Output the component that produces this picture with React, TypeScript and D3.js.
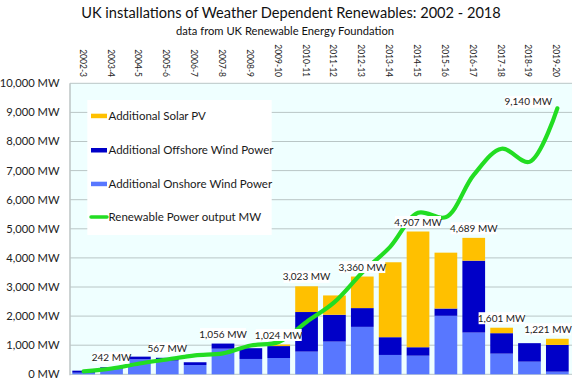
import React from "react";
import * as d3 from "d3";

const categories = ["2002-3","2003-4","2004-5","2005-6","2006-7","2007-8","2008-9","2009-10","2010-11","2011-12","2012-13","2013-14","2014-15","2015-16","2016-17","2017-18","2018-19","2019-20"];
const onshore = [55, 190, 517, 470, 320, 880, 527, 560, 780, 1125, 1630, 665, 640, 2010, 1435, 710, 435, 90];
const offshore = [70, 52, 90, 97, 94, 176, 370, 410, 1360, 920, 645, 610, 290, 250, 2470, 703, 635, 920];
const solar = [0, 0, 0, 0, 0, 0, 0, 54, 883, 665, 1085, 2575, 3977, 1920, 784, 188, 0, 211];
const outputLine = [100, 200, 370, 510, 650, 720, 990, 1110, 1800, 2480, 3500, 4380, 5550, 5400, 6850, 7750, 7300, 9140];
const labeledCats = ["2003-4","2005-6","2007-8","2009-10","2010-11","2012-13","2014-15","2016-17","2017-18","2019-20"];
const yTicks = [0,1000,2000,3000,4000,5000,6000,7000,8000,9000,10000];
const seriesNames = ["Additional Solar PV","Additional Offshore Wind Power","Additional Onshore Wind Power","Renewable Power output MW"];

const FONT = "Lato, 'Open Sans', sans-serif";
const COLORS = { onshore: "#5877FF", offshore: "#0000C8", solar: "#FFC000", line: "#22DD22" };

export default function App() {
  const left = 70, right = 571, top = 83.3, bottom = 374.3;
  const x = d3.scaleBand<string>().domain(categories).range([left, right]).paddingInner(0.185).paddingOuter(0.083);
  const y = d3.scaleLinear().domain([0, 10000]).range([bottom, top]);
  const rows = categories.map((c, i) => ({ cat: c, onshore: onshore[i], offshore: offshore[i], solar: solar[i] }));
  const stack = d3.stack<any>().keys(["onshore", "offshore", "solar"]);
  const series = stack(rows);
  const cx = (c: string) => (x(c) as number) + x.bandwidth() / 2;
  const lineGen = d3.line<number>().x((_, i) => cx(categories[i])).y(d => y(d)).curve(d3.curveCatmullRom.alpha(0.5));
  const fmt = d3.format(",");
  const fs = 10;
  const textW = (s: string) => s.length * fs * 0.5;

  const barLabels = labeledCats.map(c => {
    const i = categories.indexOf(c);
    const total = onshore[i] + offshore[i] + solar[i];
    const t = fmt(total) + " MW";
    const w = textW(t) + 6;
    let xc = cx(c);
    if (xc + w / 2 > right) xc = right - w / 2;
    return { t, xc, yc: y(total) - 9.5, w };
  });
  const lastI = categories.length - 1;
  const endT = fmt(outputLine[lastI]) + " MW";
  const endW = textW(endT) + 6;
  const endLabel = { t: endT, w: endW, xc: cx(categories[lastI]) - 6 - endW / 2, yc: y(outputLine[lastI]) - 6.5 };

  const legendY = [115.7, 150, 183.7, 217];
  const legendColors = [COLORS.solar, COLORS.offshore, COLORS.onshore];

  return (
    <div style={{ position: "absolute", left: 0, top: 0 }}>
      <svg width={580} height={382} style={{ display: "block", fontFamily: FONT }}>
        <rect x={0} y={0} width={580} height={382} fill="#ffffff" />
        <text x={291} y={18.3} textAnchor="middle" fontSize={14.6} fill="#111">UK installations of Weather Dependent Renewables: 2002 - 2018</text>
        <text x={285} y={34.5} textAnchor="middle" fontSize={11.2} fill="#111">data from UK Renewable Energy Foundation</text>
        <rect x={left} y={top} width={right - left + 1} height={bottom - top} fill="#EFFFFF" />
        {yTicks.map(t => (
          <g key={t}>
            <line x1={left} x2={right + 1} y1={y(t)} y2={y(t)} stroke="#B9C6C6" strokeWidth={1} />
            <text x={59.5} y={y(t)} dy="0.35em" textAnchor="end" fontSize={11.2} fill="#222">{fmt(t)} MW</text>
          </g>
        ))}
        <line x1={left} x2={left} y1={top} y2={bottom + 1} stroke="#BCC4C4" strokeWidth={1.5} />
        {categories.map(c => (
          <text key={c} transform={`translate(${cx(c) - 1},77) rotate(90)`} textAnchor="end" dominantBaseline="central" fontSize={8.5} fill="#222">{c}</text>
        ))}
        {series.map((s) => (
          <g key={s.key} fill={(COLORS as any)[s.key]}>
            {s.map((d, i) => (
              <rect key={i} x={x(categories[i])} y={y(d[1])} width={x.bandwidth()} height={Math.max(0, y(d[0]) - y(d[1]))} />
            ))}
          </g>
        ))}
        <path d={lineGen(outputLine) || ""} fill="none" stroke={COLORS.line} strokeWidth={4.2} strokeLinecap="round" />
        {[...barLabels, endLabel].map((l, i) => (
          <g key={i}>
            <rect x={l.xc - l.w / 2} y={l.yc - 6} width={l.w} height={12} fill="#ffffff" />
            <text x={l.xc} y={l.yc} dy="0.35em" textAnchor="middle" fontSize={fs} fill="#222">{l.t}</text>
          </g>
        ))}
        <rect x={87.3} y={100} width={184.4} height={135} fill="#ffffff" />
        {seriesNames.map((n, i) => (
          <g key={n}>
            {i < 3 ? (
              <rect x={91} y={legendY[i] - 2} width={16} height={4.5} fill={legendColors[i]} />
            ) : (
              <line x1={91} x2={107} y1={legendY[i]} y2={legendY[i]} stroke={COLORS.line} strokeWidth={3.5} strokeLinecap="round" />
            )}
            <text x={108.5} y={legendY[i]} dy="0.35em" fontSize={11.5} fill="#1a1a1a">{n}</text>
          </g>
        ))}
      </svg>
    </div>
  );
}
